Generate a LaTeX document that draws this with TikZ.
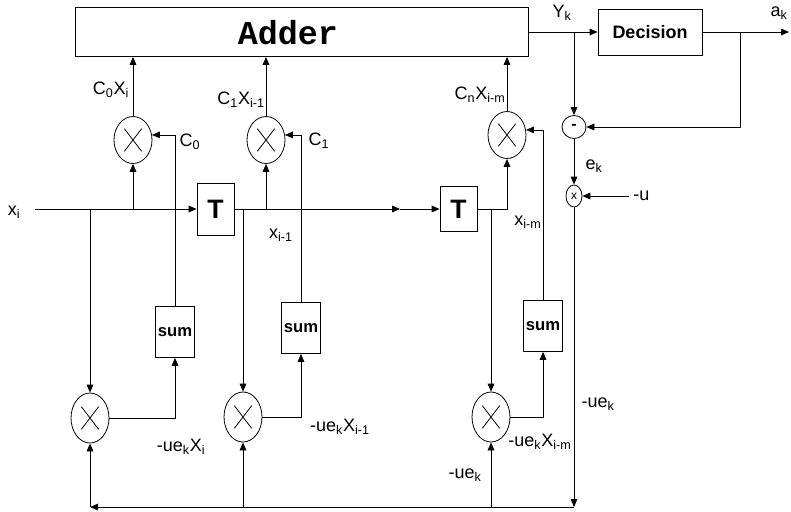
\documentclass[tikz,border=0pt]{standalone}
\usepackage{fontspec}
\setmainfont{Liberation Sans}
\newfontfamily\adderfont{Liberation Mono}
\usetikzlibrary{arrows.meta,shapes.geometric}

\begin{document}
\begin{tikzpicture}[x=0.75pt,y=0.75pt,yscale=-1,xscale=1,line width=0.6pt,
  arr/.style={-{Triangle[length=6pt,width=5pt]}},
  blk/.style={draw,rectangle,inner sep=0pt},
  tbox/.style={blk,minimum width=27.75pt,font=\fontsize{20}{20}\selectfont\bfseries},
  sumbox/.style={blk,minimum width=29.25pt,minimum height=38.25pt,font=\fontsize{12.5}{13}\selectfont\bfseries},
  mult/.style={draw,ellipse,inner sep=0pt,minimum width=28.5pt,minimum height=35.25pt,
    path picture={\draw[line width=0.6pt] ([shift={(-6.5pt,-8.5pt)}]path picture bounding box.center) -- ([shift={(6.5pt,8.5pt)}]path picture bounding box.center)
      ([shift={(-6.5pt,8.5pt)}]path picture bounding box.center) -- ([shift={(6.5pt,-8.5pt)}]path picture bounding box.center);}},
  lbl/.style={inner sep=0.75pt,font=\fontsize{13.5}{15}\selectfont}]
\useasboundingbox (0,0) rectangle (791,511);

%Shape: Adder and Decision
\node[blk,minimum width=339.75pt,minimum height=36.75pt] (adder) at (301.5,32) {};
\node[font=\adderfont\fontsize{25}{25}\selectfont\bfseries] (addertxt) at (288,33) {Adder};
\node[blk,minimum width=78pt,minimum height=34.5pt,font=\fontsize{13.5}{14}\selectfont\bfseries] (dec) at (650,32) {Decision};
%Shape: error path
\node[draw,ellipse,inner sep=0pt,minimum width=18pt,minimum height=17.25pt,font=\fontsize{12}{12}\selectfont\bfseries] (sub) at (574,127) {-};
\node[draw,ellipse,inner sep=0pt,minimum width=12pt,minimum height=16.5pt,font=\fontsize{9}{9}\selectfont] (emul) at (574,196) {x};
%Shape: delays
\node[tbox,minimum height=39pt] (T1) at (215.5,209) {T};
\node[tbox,minimum height=33.75pt] (T2) at (458.5,209) {T};
%Shape: multipliers
\node[mult] (m0) at (133,140) {};
\node[mult] (m1) at (266,140) {};
\node[mult] (mn) at (507,135) {};
\node[mult,minimum height=37.5pt] (b0) at (90,418) {};
\node[mult,minimum height=37.5pt] (b1) at (243,417) {};
\node[mult,minimum height=37.5pt] (bn) at (491,417) {};
%Shape: accumulators
\node[sumbox] (s0) at (175,332) {sum};
\node[sumbox] (s1) at (301,328) {sum};
\node[sumbox] (sn) at (543,326) {sum};

\coordinate (xin) at (35,209);
\coordinate (mid) at (400,209);
\coordinate (ytap) at (574,32);
\coordinate (atap) at (740,32);
\coordinate (aout) at (789,32);
\coordinate (uin) at (629,196);
\coordinate (busr) at (574,507);
\coordinate (busl) at (90,507);

%Straight Lines: delay line
\draw[arr] (xin) -- (T1);
\draw[arr] (T1) -- (mid);
\draw[arr] (mid) -- (T2);
\draw[arr] (T2.east) -| (mn);
\draw[arr] (m0 |- xin) -- (m0);
\draw[arr] (m1 |- xin) -- (m1);
\draw[arr] (b0 |- xin) -- (b0);
\draw[arr] (b1 |- xin) -- (b1);
\draw[arr] (bn |- xin) -- (bn);
%Straight Lines: taps into adder
\draw[arr] (m0) -- (m0 |- adder.south);
\draw[arr] (m1) -- (m1 |- adder.south);
\draw[arr] (mn) -- (mn |- adder.south);
%Straight Lines: coefficients
\draw[arr] (s0) |- (m0.15);
\draw[arr] (s1) |- (m1.15);
\draw[arr] (sn) |- (mn.15);
\draw[arr] (b0) -| (s0);
\draw[arr] (b1) -| (s1);
\draw[arr] (bn) -| (sn);
%Straight Lines: decision and error
\draw[arr] (adder) -- (dec);
\draw[arr] (dec) -- (aout);
\draw[arr] (ytap) -- (sub);
\draw[arr] (atap) |- (sub);
\draw[arr] (sub) -- (emul);
\draw[arr] (uin) -- (emul);
\draw[arr] (emul) -- (busr);
\draw[arr] (busr) -- (busl);
\draw[arr] (busl) -- (b0);
\draw[arr] (b1 |- busl) -- (b1);
\draw[arr] (bn |- busl) -- (bn);

% Text Node
\node[lbl] (lxi) at (14,212) {x\textsubscript{i}};
\node[lbl] (lc0x) at (111,90) {C\textsubscript{0}X\textsubscript{i}};
\node[lbl] (lc0) at (190,142) {C\textsubscript{0}};
\node[lbl] (lc1x) at (241,100) {C\textsubscript{1}X\textsubscript{i-1}};
\node[lbl] (lc1) at (319,141) {C\textsubscript{1}};
\node[lbl] (lcnx) at (480,95) {C\textsubscript{n}X\textsubscript{i-m}};
\node[lbl] (lxi1) at (281,235) {x\textsubscript{i-1}};
\node[lbl] (lxim) at (528,222) {x\textsubscript{i-m}};
\node[lbl] (lyk) at (562,13) {Y\textsubscript{k}};
\node[lbl] (lak) at (779,13) {a\textsubscript{k}};
\node[lbl] (lek) at (594,166) {e\textsubscript{k}};
\node[lbl,anchor=west] (lu) at (632,196) {-u};
\node[lbl] (lp0) at (181,447) {-ue\textsubscript{k}X\textsubscript{i}};
\node[lbl] (lp1) at (340,427) {-ue\textsubscript{k}X\textsubscript{i-1}};
\node[lbl] (lpn) at (540,442) {-ue\textsubscript{k}X\textsubscript{i-m}};
\node[lbl] (lue1) at (465,475) {-ue\textsubscript{k}};
\node[lbl] (lue2) at (598,404) {-ue\textsubscript{k}};

\end{tikzpicture}
\end{document}
